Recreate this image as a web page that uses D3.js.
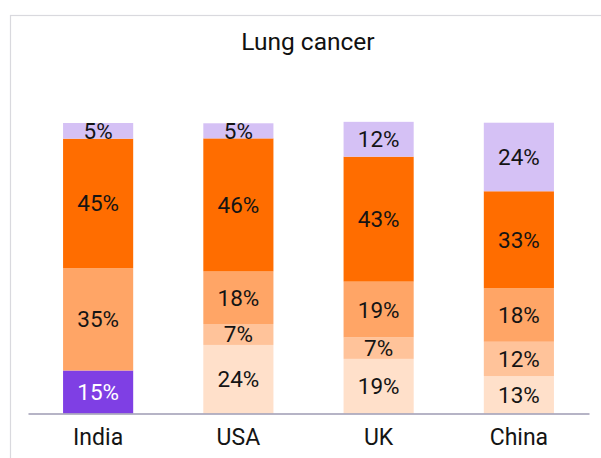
<!DOCTYPE html>
<html>
<head>
<meta charset="utf-8">
<script src="https://cdn.jsdelivr.net/npm/d3@7"></script>
<style>
  body { margin: 0; background: #fff; }
  text { font-family: Roboto, "Noto Sans", sans-serif; }
</style>
</head>
<body>
<div id="chart"></div>
<script>
// chart data (percent of cases)
const countries = ["India", "USA", "UK", "China"];
const seriesKeys = ["s1", "s2", "s3", "s4", "s5", "s6"];
const seriesColors = ["#7f3fe4", "#ffe0ca", "#ffc39a", "#ffa566", "#ff6d00", "#d5c1f5"];
const s1 = [14.8, 0, 0, 0];
const s2 = [0, 23.6, 18.8, 12.9];
const s3 = [0, 7.2, 7.4, 11.8];
const s4 = [35.2, 18.1, 19.2, 18.4];
const s5 = [44.6, 45.8, 43.0, 33.4];
const s6 = [5.4, 5.2, 12.0, 23.6];
const chartTitle = "Lung cancer";

// table for d3.stack
const seriesValues = [s1, s2, s3, s4, s5, s6];
const rows = countries.map(function (c, i) {
  const r = { country: c };
  seriesKeys.forEach(function (k, j) { r[k] = seriesValues[j][i]; });
  return r;
});

const width = 601, height = 458;
const svg = d3.select("#chart").append("svg")
  .attr("width", width)
  .attr("height", height);

// outer frame (only top and left show inside the window)
svg.append("rect")
  .attr("x", 10.5).attr("y", 15.5)
  .attr("width", 620).attr("height", 470)
  .attr("fill", "none")
  .attr("stroke", "#d9d9de")
  .attr("stroke-width", 1.2);

const x = d3.scaleBand()
  .domain(countries)
  .range([28, 589])
  .paddingInner(0.5)
  .paddingOuter(0.25);

const y = d3.scaleLinear()
  .domain([0, 100])
  .range([413.5, 123]);

const stacked = d3.stack().keys(seriesKeys)(rows);

const layers = svg.append("g").selectAll("g")
  .data(stacked)
  .join("g")
  .attr("fill", function (d, i) { return seriesColors[i]; });

layers.selectAll("rect")
  .data(function (d) { return d; })
  .join("rect")
  .attr("x", function (d) { return x(d.data.country); })
  .attr("width", x.bandwidth())
  .attr("y", function (d) { return y(d[1]); })
  .attr("height", function (d) { return y(d[0]) - y(d[1]); });

// value labels in the middle of each piece
const labels = svg.append("g");
stacked.forEach(function (layer, i) {
  labels.selectAll(null)
    .data(layer.filter(function (d) { return d[1] - d[0] > 0; }))
    .join("text")
    .attr("x", function (d) { return x(d.data.country) + x.bandwidth() / 2; })
    .attr("y", function (d) { return (y(d[0]) + y(d[1])) / 2; })
    .attr("text-anchor", "middle")
    .attr("dominant-baseline", "central")
    .attr("font-size", 22.5)
    .attr("fill", i === 0 ? "#ffffff" : "#141414")
    .text(function (d) { return Math.round(d[1] - d[0]) + "%"; });
});

// category axis
const xAxis = svg.append("g")
  .attr("transform", "translate(0," + y(0) + ")")
  .call(d3.axisBottom(x).tickSize(0).tickPadding(0));
xAxis.select(".domain")
  .attr("stroke", "#9e9bb3")
  .attr("stroke-width", 1.5);
xAxis.selectAll(".tick text")
  .attr("font-size", 23)
  .attr("fill", "#141414")
  .attr("dy", null)
  .attr("y", 31);

svg.append("text")
  .attr("x", 308)
  .attr("y", 50)
  .attr("text-anchor", "middle")
  .attr("font-size", 24.5)
  .attr("fill", "#111")
  .text(chartTitle);
</script>
</body>
</html>
